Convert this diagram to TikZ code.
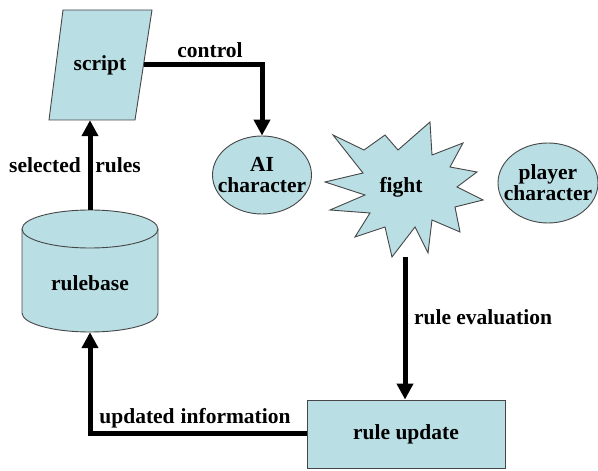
\documentclass[tikz,border=0pt]{standalone}
\usepackage{fontspec}
\setmainfont{Liberation Serif}
\usetikzlibrary{arrows.meta,shapes.geometric}
\definecolor{boxfill}{RGB}{185,222,228}
\definecolor{edge}{RGB}{70,70,70}

\begin{document}
\begin{tikzpicture}[x=1pt,y=1pt,
	font=\fontsize{21.5}{24}\selectfont\bfseries,
	blob/.style={fill=boxfill, draw=edge, line width=0.9pt},
	flow/.style={line width=5pt, -{Triangle[length=16pt,width=16pt]}},
	lbl/.style={inner sep=0pt}]
		\useasboundingbox (0,0) rectangle (598,471);
		
		% script
		\def\scriptshape{ (63,461) -- (152,461) -- (135,351) -- (49,351) -- cycle};
		\draw[blob] \scriptshape;
		\node[minimum width=88pt, minimum height=110pt, inner sep=0pt] (script) at (100,406) {script};
		
		% rulebase
		\fill[boxfill] (22,242) -- (22,158) arc (180:360:68 and 19) -- (158,242) arc (0:180:68 and 19);
		\draw[edge, line width=0.9pt] (22,242) -- (22,158) arc (180:360:68 and 19) -- (158,242);
		\draw[edge, line width=0.9pt] (90,242) ellipse (68 and 19);
		\node[minimum width=136pt, minimum height=122pt, inner sep=0pt] (rulebase) at (90,200) {};
		\node at (90,188) {rulebase};
		
		% fight
		\def\fightshape{ (333,336) -- (364,321) -- (385,336) -- (398,321) -- (430,349) -- (432,316) -- (463,328) -- (450,304) -- (477,299) -- (457,284) -- (483,271) -- (455,264) -- (460,239) -- (432,251) -- (428,218) -- (415,244) -- (392,214) -- (385,244) -- (355,234) -- (370,258) -- (330,261) -- (365,276) -- (325,289) -- (363,298) -- cycle};
		\draw[blob] \fightshape;
		\node (fight) at (401,284) {fight};
		\coordinate (fightbot) at (405,214);
		
		% characters
		\node[ellipse, blob, minimum width=99pt, minimum height=78pt, inner sep=0pt] (ai) at (262,296) {};
		\node[align=center, inner sep=0pt] at (ai) {AI\\[-3pt]character};
		\node[ellipse, blob, minimum width=100pt, minimum height=80pt, inner sep=0pt] (player) at (548,288) {};
		\node[align=center, inner sep=0pt] at (player) {player\\[-3pt]character};
		
		% rule update
		\node[rectangle, blob, minimum width=198pt, minimum height=68pt] (update) at (406,37) {rule update};
		
		% arrows
		\draw[flow] (script.east) -| (ai.north);
		\draw[flow] (rulebase.north) -- (rulebase.north |- script.south);
		\draw[flow] (fightbot) -- (fightbot |- update.north);
		\draw[flow] (update.west) -| (rulebase.south);
		
		\node[lbl] (lcontrol) at (210,421) {control};
		\node[lbl] (lselected) at (45,306) {selected};
		\node[lbl] (lrules) at (118,306) {rules};
		\node[lbl] (leval) at (483,154) {rule evaluation};
		\node[lbl] (lupdated) at (195,53) {updated\hspace{6pt}information};
	\end{tikzpicture}
\end{document}
